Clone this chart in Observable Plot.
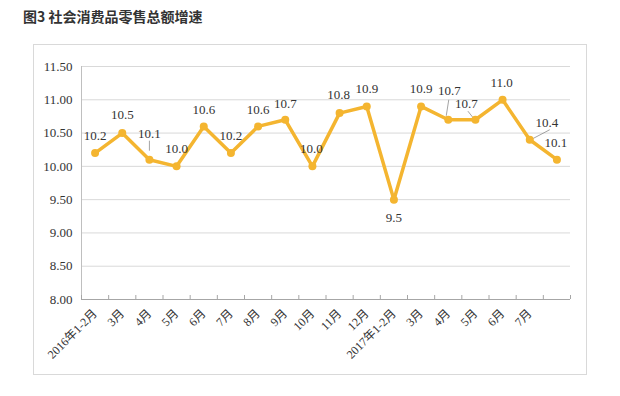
<!DOCTYPE html>
<html>
<head>
<meta charset="utf-8">
<script src="https://cdn.jsdelivr.net/npm/d3@7"></script>
<script src="https://cdn.jsdelivr.net/npm/@observablehq/plot@0.6"></script>
<style>
  html, body { margin: 0; padding: 0; background: #fff; width: 620px; height: 396px; overflow: hidden; position: relative; }
  #title { position: absolute; left: 23px; top: 6px; font: bold 14px "Noto Sans CJK SC", "Noto Sans", sans-serif; color: #333; }
  #box { position: absolute; left: 33px; top: 44px; width: 552px; height: 329px; border: 1px solid #d9d9d9; }
  #box svg { display: block; }
  #box svg text { font-family: "Liberation Serif", "Noto Sans CJK SC", serif; }
</style>
</head>
<body>
<div id="title">图3 社会消费品零售总额增速</div>
<div id="box"></div>
<script>
// ---- data ----
const labels = ["2016年1-2月", "3月", "4月", "5月", "6月", "7月", "8月", "9月", "10月", "11月", "12月",
                "2017年1-2月", "3月", "4月", "5月", "6月", "7月"];
const values = [10.2, 10.5, 10.1, 10.0, 10.6, 10.2, 10.6, 10.7, 10.0, 10.8, 10.9,
                9.5, 10.9, 10.7, 10.7, 11.0, 10.4, 10.1];
const yTicks = [8.0, 8.5, 9.0, 9.5, 10.0, 10.5, 11.0, 11.5];

// ---- label placement (pixel offsets from each point) ----
const labelOffsets = [[0,-17],[0,-18],[0,-26],[0,-18],[0,-17],[0,-17],[0,-17],[0,-16],[-1,-18],[-1,-18],
                      [0,-18],[0,18],[0,-18],[1,-29],[-9,-16],[-1,-17],[17,-17],[-1,-17]];
const leaderOffsets = {2: [[0,-19],[0,-9]], 13: [[0.5,-20],[-2,-4]], 14: [[-7.5,-8.6],[-1.5,-1]], 16: [[20,-10],[1,0]]};

const W = 552, H = 329, mL = 47, mR = 16, mT = 21, mB = 75;
const pxX = (W - mL - mR) / values.length;
const pxY = (H - mT - mB) / (yTicks[yTicks.length - 1] - yTicks[0]);

const data = values.map((v, i) => ({i, v, dx: labelOffsets[i][0], dy: labelOffsets[i][1]}));
const leaders = Object.entries(leaderOffsets).map(([k, [a, b]]) => {
  const i = +k, v = values[i];
  return {x1: i + a[0] / pxX, y1: v - a[1] / pxY, x2: i + b[0] / pxX, y2: v - b[1] / pxY};
});
const boundaries = d3.range(values.length + 1).map(k => k - 0.5);

const color = "#f4b530";
const serif = "Liberation Serif, Noto Sans CJK SC, serif";

const chart = Plot.plot({
  width: W, height: H,
  marginLeft: mL, marginRight: mR, marginTop: mT, marginBottom: mB,
  style: {fontFamily: serif, fontSize: "13px", color: "#333", background: "transparent"},
  x: {type: "linear", domain: [-0.5, values.length - 0.5]},
  y: {domain: [yTicks[0], yTicks[yTicks.length - 1]]},
  marks: [
    Plot.gridY(yTicks.slice(1), {stroke: "#d9d9d9", strokeOpacity: 1}),
    Plot.ruleY([yTicks[0]], {stroke: "#a6a6a6"}),
    Plot.ruleX([-0.5], {stroke: "#bfbfbf"}),
    Plot.ruleX(boundaries, {y1: yTicks[0], y2: yTicks[0] + 4 / pxY, stroke: "#a6a6a6"}),
    Plot.axisY(yTicks, {tickFormat: d3.format(".2f"), tickSize: 0, tickPadding: 9, fontSize: 13, fontFamily: serif, fill: "#333", label: null}),
    Plot.axisX(d3.range(labels.length), {tickFormat: i => labels[i], tickRotate: -45, tickSize: 0, tickPadding: 12, fontSize: 12, fontFamily: serif, fill: "#333", label: null}),
    Plot.link(leaders, {x1: "x1", y1: "y1", x2: "x2", y2: "y2", stroke: "#8c8c8c", strokeWidth: 0.8}),
    Plot.line(data, {x: "i", y: "v", stroke: color, strokeWidth: 3.5, strokeLinejoin: "round"}),
    Plot.dot(data, {x: "i", y: "v", r: 4, fill: color}),
    ...data.map(d => Plot.text([d], {x: "i", y: "v", text: d => d.v.toFixed(1), dx: d.dx, dy: d.dy, fill: "#333", fontSize: 13, fontFamily: serif}))
  ]
});
document.getElementById("box").appendChild(chart);
</script>
</body>
</html>
